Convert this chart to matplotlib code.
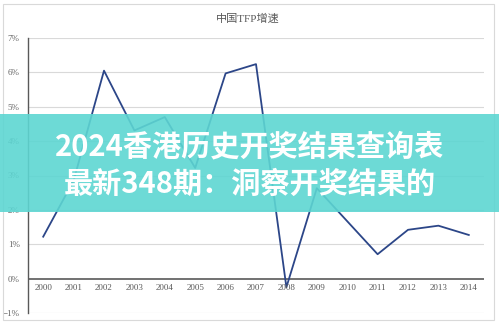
import matplotlib.pyplot as plt
from matplotlib.patches import Rectangle
from matplotlib.transforms import blended_transform_factory

# 数据
years = list(range(2000, 2015))
tfp = [1.22, 2.85, 6.05, 4.31, 4.70, 3.22, 5.97, 6.24, -0.25, 2.63, 1.67, 0.71, 1.42, 1.54, 1.27]
y_ticks = [-1, 0, 1, 2, 3, 4, 5, 6, 7]
title = "中国TFP增速"
banner_lines = ["2024香港历史开奖结果查询表", "最新348期：洞察开奖结果的"]

plt.rcParams['font.family'] = ['Liberation Serif', 'Noto Sans CJK SC']

W, H = 499, 326
fig = plt.figure(figsize=(W / 100, H / 100), dpi=100)
fig.patch.set_facecolor('white')

# 外框
fig.patches.append(Rectangle((3 / W, 1 - 320 / H), 491 / W, 316 / H,
                             transform=fig.transFigure, fill=False,
                             edgecolor='#d9d9d9', linewidth=0.8))

ax = fig.add_axes([28 / W, 1 - 313 / H, (484 - 28) / W, (313 - 38) / H])
ax.set_xlim(1999.5, 2014.5)
ax.set_ylim(-1, 7)

# 网格线
for v in y_ticks:
    if v == 0:
        ax.axhline(v, color='#595959', linewidth=1.2, zorder=2)
    else:
        ax.axhline(v, color='#d9d9d9', linewidth=0.8, zorder=1)

ax.plot(years, tfp, color='#2c4688', linewidth=1.3, zorder=3)

for s in ['top', 'right', 'bottom']:
    ax.spines[s].set_visible(False)
ax.spines['left'].set_color('#595959')
ax.spines['left'].set_linewidth(1.0)

ax.set_xticks([])
ax.set_yticks(y_ticks)
ax.set_yticklabels([f"{v}%" if v >= 0 else f"−{abs(v)}%" for v in y_ticks],
                   fontsize=6.5, color='#666666')
ax.tick_params(axis='y', length=0, pad=6)

# x 轴标签紧贴 0 线下方
tr = blended_transform_factory(ax.transData, ax.transData)
for yr in years:
    ax.text(yr, -0.28, str(yr), transform=tr, ha='center', va='center',
            fontsize=6.5, color='#595959')

fig.text(248 / W, 1 - 19 / H, title, ha='center', va='center',
         fontsize=8, color='#595959')

# 横幅
fig.patches.append(Rectangle((0, 1 - 212 / H), 1, 98 / H,
                             transform=fig.transFigure, facecolor='#5dd6d2',
                             alpha=0.9, edgecolor='none', zorder=10))
fig.text(0.5, 1 - 146 / H, banner_lines[0], ha='center', va='center',
         fontsize=21, fontweight='bold', color='white',
         family=['Noto Sans CJK SC'], zorder=11)
fig.text(0.5, 1 - 184 / H, banner_lines[1], ha='center', va='center',
         fontsize=21, fontweight='bold', color='white',
         family=['Noto Sans CJK SC'], zorder=11)

plt.savefig('out.png', dpi=100)
